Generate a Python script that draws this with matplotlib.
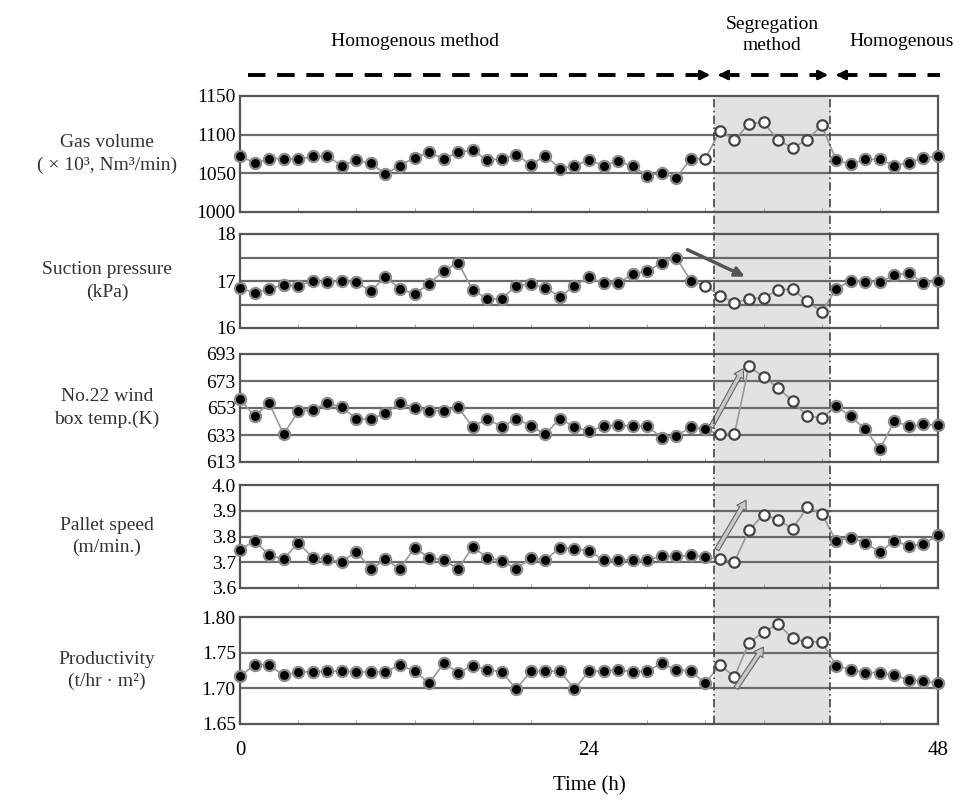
import numpy as np
import matplotlib
matplotlib.use('Agg')
import matplotlib.pyplot as plt
from matplotlib.lines import Line2D
from matplotlib.patches import Rectangle, FancyArrowPatch

plt.rcParams['font.family'] = 'Liberation Serif'
plt.rcParams['font.size'] = 13

hours = np.arange(49)
seg_start, seg_end = 32.6, 40.6

gas = [1073, 1063, 1069, 1069, 1068, 1072, 1072, 1060, 1067, 1063, 1049, 1060, 1070,
       1077, 1069, 1077, 1080, 1067, 1069, 1074, 1061, 1073, 1056, 1060, 1067, 1060,
       1066, 1059, 1047, 1050, 1044, 1069, 1069,
       1105, 1093, 1114, 1116, 1093, 1083, 1093, 1112,
       1067, 1062, 1068, 1068, 1060, 1064, 1070, 1072]
suction = [16.86, 16.74, 16.84, 16.91, 16.90, 17.00, 16.98, 17.00, 16.97, 16.79, 17.08,
           16.84, 16.72, 16.94, 17.21, 17.39, 16.81, 16.62, 16.62, 16.90, 16.93, 16.86,
           16.66, 16.90, 17.08, 16.95, 16.95, 17.15, 17.21, 17.38, 17.50, 17.00, 16.90,
           16.69, 16.54, 16.62, 16.64, 16.81, 16.83, 16.57, 16.34,
           16.83, 17.01, 16.98, 16.98, 17.12, 17.17, 16.95, 17.01]
windbox = [659.6, 646.9, 656.7, 633.5, 650.6, 651.8, 656.7, 653.5, 645.2, 644.5, 649.3,
           656.7, 653.0, 651.0, 651.0, 653.5, 638.9, 645.2, 638.9, 645.2, 639.6, 633.5,
           645.2, 638.9, 635.9, 639.6, 640.3, 639.6, 639.6, 631.0, 632.3, 638.9, 637.1,
           633.5, 633.5, 684.0, 676.0, 668.0, 658.0, 647.0, 645.7,
           654.2, 646.9, 637.1, 622.5, 643.2, 639.6, 640.8, 640.3]
pallet = [3.748, 3.784, 3.727, 3.712, 3.776, 3.718, 3.711, 3.702, 3.741, 3.674, 3.711,
          3.674, 3.757, 3.717, 3.709, 3.674, 3.760, 3.718, 3.706, 3.674, 3.717, 3.709,
          3.757, 3.751, 3.745, 3.709, 3.709, 3.709, 3.709, 3.723, 3.723, 3.727, 3.721,
          3.711, 3.702, 3.824, 3.885, 3.865, 3.830, 3.913, 3.889,
          3.782, 3.796, 3.776, 3.739, 3.784, 3.763, 3.772, 3.804]
prod = [1.717, 1.733, 1.733, 1.718, 1.723, 1.723, 1.724, 1.724, 1.723, 1.723, 1.723,
        1.733, 1.724, 1.707, 1.735, 1.722, 1.732, 1.726, 1.723, 1.699, 1.724, 1.724,
        1.724, 1.699, 1.724, 1.724, 1.726, 1.723, 1.724, 1.735, 1.726, 1.724, 1.707,
        1.733, 1.716, 1.764, 1.779, 1.790, 1.770, 1.765, 1.765,
        1.732, 1.726, 1.722, 1.722, 1.718, 1.712, 1.710, 1.707]

series = [gas, suction, windbox, pallet, prod]
open_from = [32, 32, 33, 33, 33]
open_to = 40
labels = ['Gas volume\n( \u00d7 10\u00b3, Nm\u00b3/min)', 'Suction pressure\n(kPa)',
          'No.22 wind\nbox temp.(K)', 'Pallet speed\n(m/min.)',
          'Productivity\n(t/hr \u00b7 m\u00b2)']
yticks = [[1000, 1050, 1100, 1150], [16, 17, 18], [613, 633, 653, 673, 693],
          [3.6, 3.7, 3.8, 3.9, 4.0], [1.65, 1.70, 1.75, 1.80]]
yfmt = ['%d', '%d', '%d', '%.1f', '%.2f']
grids = [[1050, 1100], [16.5, 17, 17.5], [633, 653, 673], [3.7, 3.8, 3.9], [1.70, 1.75]]
xticks = [0, 24, 48]

# panel boxes in pixels (top, bottom)
W, H = 968, 800
left, right = 240, 938
boxes = [(96, 212), (234, 328), (354, 462), (485, 588), (617, 724)]

fig = plt.figure(figsize=(9.68, 8), dpi=100)
axes = []
for i, (top, bot) in enumerate(boxes):
    ax = fig.add_axes([left / W, 1 - bot / H, (right - left) / W, (bot - top) / H])
    ax.set_facecolor('none')
    y = np.array(series[i])
    ax.plot(hours, y, color='#999999', lw=1.2, zorder=3, clip_on=False)
    o = (hours >= open_from[i]) & (hours <= open_to)
    ax.plot(hours[~o], y[~o], 'o', ms=8, mfc='black', mec='#8a8a8a', mew=1.6,
            zorder=4, clip_on=False)
    ax.plot(hours[o], y[o], 'o', ms=7.5, mfc='white', mec='#444444', mew=1.6,
            zorder=4, clip_on=False)
    for g in grids[i]:
        ax.axhline(g, color='#6a6a6a', lw=1.6, zorder=1)
    ax.set_xlim(0, 48)
    ax.set_ylim(yticks[i][0], yticks[i][-1])
    ax.set_yticks(yticks[i])
    ax.set_yticklabels([yfmt[i] % v for v in yticks[i]])
    ax.set_xticks(np.arange(4, 48, 4), minor=True)
    ax.tick_params(axis='x', which='minor', length=3, direction='in', color='#999999')
    ax.tick_params(axis='y', length=0, pad=3, labelsize=14)
    if i < 4:
        ax.set_xticks([])
    for s in ax.spines.values():
        s.set_color('#555555')
        s.set_linewidth(1.6)
    fig.text(107 / W, 1 - (top + bot) / 2 / H, labels[i], ha='center', va='center',
             fontsize=14, color='#333333', linespacing=1.4)
    axes.append(ax)

ax5 = axes[-1]
ax5.set_xticks(xticks)
ax5.tick_params(axis='x', which='major', length=0, pad=12, labelsize=15)
ax5.set_xlabel('Time (h)', fontsize=15, labelpad=12)

# trend arrows
axes[1].annotate('', xy=(34.9, 17.07), xytext=(30.6, 17.69),
                 arrowprops=dict(arrowstyle='-|>', color='#555555', lw=2.5,
                                 mutation_scale=14), zorder=5)
for ax, p0, p1 in [(axes[2], (32.3, 637), (34.7, 684)),
                   (axes[3], (32.7, 3.74), (34.9, 3.95)),
                   (axes[4], (34.0, 1.697), (36.1, 1.761))]:
    ax.annotate('', xy=p1, xytext=p0,
                arrowprops=dict(arrowstyle='simple,head_width=0.6,tail_width=0.25',
                                fc='#c8c8c8', ec='#666666', lw=0.8), zorder=5)

# shaded segregation band across all panels
inv = fig.transFigure.inverted()
xa = inv.transform(ax5.transData.transform((seg_start, 0)))[0]
xb = inv.transform(ax5.transData.transform((seg_end, 0)))[0]
ytop = 1 - boxes[0][0] / H
ybot = 1 - boxes[-1][1] / H
fig.add_artist(Rectangle((xa, ybot), xb - xa, ytop - ybot, transform=fig.transFigure,
                         fc='#e2e2e2', ec='none', zorder=-1))
for xx in (xa, xb):
    fig.add_artist(Line2D([xx, xx], [ybot, ytop], transform=fig.transFigure,
                          color='#444444', lw=1.2, ls=(0, (5, 2, 1, 2)), zorder=6))

# method labels and dashed arrows at top
ya = 1 - 75 / H
fig.text(415 / W, 1 - 42 / H, 'Homogenous method', ha='center', va='center', fontsize=14)
fig.text(772 / W, 1 - 35 / H, 'Segregation\nmethod', ha='center', va='center', fontsize=14,
         linespacing=1.3)
fig.text(902 / W, 1 - 42 / H, 'Homogenous', ha='center', va='center', fontsize=14)
for x0, x1 in [(248, 704), (722, 822), (840, 940)]:
    fig.add_artist(Line2D([x0 / W, x1 / W], [ya, ya], transform=fig.transFigure,
                          color='black', lw=2.8, ls=(0, (4.5, 3))))
for tail, head in [(700, 713), (726, 715), (818, 831), (844, 833)]:
    fig.add_artist(FancyArrowPatch(
        (tail / W, ya), (head / W, ya), transform=fig.transFigure,
        arrowstyle='-|>', mutation_scale=14, color='black', lw=2))

plt.savefig('out.png')
